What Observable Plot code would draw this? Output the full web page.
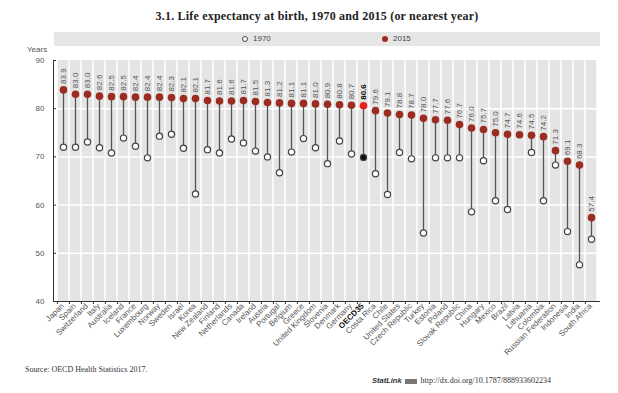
<!DOCTYPE html>
<html><head><meta charset="utf-8">
<script src="https://cdn.jsdelivr.net/npm/d3@7"></script>
<script src="https://cdn.jsdelivr.net/npm/@observablehq/plot@0.6"></script>
<style>
body{margin:0;background:#fff;}
#wrap{position:relative;width:618px;height:393px;overflow:hidden;font-family:"Liberation Sans Narrow","Arial Narrow","Liberation Sans",sans-serif;}
#chart{position:absolute;left:0;top:0;}
.title{position:absolute;top:9px;left:0;width:634px;text-align:center;font:bold 12px "Liberation Serif","DejaVu Serif",serif;color:#222;letter-spacing:0.2px}
.legend{position:absolute;left:54px;top:32px;width:546px;height:14px;background:#e6e6e6;font-size:8px;color:#444}
.legend .item{position:absolute;top:2px;line-height:10px;display:flex;align-items:center}
.legend .sw{display:inline-block;width:6px;height:6px;border-radius:50%;margin-right:5px;box-sizing:border-box}
.years{position:absolute;left:27px;top:45px;font-size:8px;color:#555}
.source{position:absolute;left:25px;top:365px;font:8px "Liberation Serif",serif;color:#333}
.statlink{position:absolute;left:372px;top:376px;font:8px "Liberation Serif",serif;color:#333;white-space:nowrap}
.statlink b{font:bold italic 7.5px "Liberation Sans",sans-serif;color:#333}
.statlink .ic{display:inline-block;width:12px;height:5px;background:#777;margin:0 4px 0 3px;vertical-align:middle}
</style></head>
<body>
<div id="wrap">
  <div id="chart"></div>
  <div class="title">3.1. Life expectancy at birth, 1970 and 2015 (or nearest year)</div>
  <div class="legend">
    <div class="item" style="left:188px"><span class="sw" style="border:1.2px solid #444;background:#fff"></span>1970</div>
    <div class="item" style="left:328px"><span class="sw" style="background:#9b2d20"></span>2015</div>
  </div>
  <div class="years">Years</div>
  <div class="source">Source: OECD Health Statistics 2017.</div>
  <div class="statlink"><b>StatLink</b><span class="ic"></span>http://dx.doi.org/10.1787/888933602234</div>
</div>
<script>
const countries = ["Japan","Spain","Switzerland","Italy","Australia","Iceland","France","Luxembourg","Norway","Sweden","Israel","Korea","New Zealand","Finland","Netherlands","Canada","Ireland","Austria","Portugal","Belgium","Greece","United Kingdom","Slovenia","Denmark","Germany","OECD35","Costa Rica","Chile","United States","Czech Republic","Turkey","Estonia","Poland","Slovak Republic","China","Hungary","Mexico","Brazil","Latvia","Lithuania","Colombia","Russian Federation","Indonesia","India","South Africa"];
const v2015 = [83.9,83.0,83.0,82.6,82.5,82.5,82.4,82.4,82.4,82.3,82.1,82.1,81.7,81.6,81.6,81.7,81.5,81.3,81.2,81.1,81.1,81.0,80.9,80.8,80.7,80.6,79.6,79.1,78.8,78.7,78.0,77.7,77.6,76.7,76.0,75.7,75.0,74.7,74.6,74.5,74.2,71.3,69.1,68.3,57.4];
const v1970 = [72.0,72.0,73.1,71.9,70.8,73.9,72.2,69.8,74.3,74.7,71.8,62.3,71.5,70.8,73.7,72.9,71.2,70.0,66.7,71.0,73.8,71.9,68.6,73.3,70.6,69.9,66.5,62.2,70.9,69.6,54.2,69.8,69.8,69.8,58.6,69.2,60.9,59.1,null,70.9,60.9,68.3,54.5,47.6,52.9];
const yTicks = [40,50,60,70,80,90];
const yDomain = [40,90];
const highlight = "OECD35";

const data = countries.map((c,i)=>({country:c, v2015:v2015[i], v1970:v1970[i]}));
const W = 618, H = 393, mL = 53, mR = 18, mT = 60, mB = 92;
const bw = (W - mL - mR) / countries.length;
const red = "#9b2d20", hiRed = "#e8201a";
const gray = "#555";

const plot = Plot.plot({
  width: W, height: H,
  marginLeft: mL, marginRight: mR, marginTop: mT, marginBottom: mB,
  style: {fontFamily: '"Liberation Sans Narrow","Arial Narrow","Liberation Sans",sans-serif', background: "transparent"},
  x: {type: "band", domain: countries, padding: 0, axis: null, label: null},
  y: {domain: yDomain, axis: null, label: null},
  marks: [
    Plot.barY(countries, {x: d => d, y1: yDomain[0], y2: yDomain[1], fill: "#e4e4e4", insetLeft: 0.75, insetRight: 0.75}),
    Plot.ruleY(yTicks.slice(1, -1), {stroke: "white", strokeWidth: 1.5}),
    Plot.ruleY([yDomain[0]], {stroke: "#333", strokeWidth: 1}),
    Plot.frame({anchor: "left", stroke: "#333"}),
    Plot.axisY(yTicks, {anchor: "left", tickSize: 3, dx: 3, text: null, stroke: "#333", label: null}),
    Plot.axisY(yTicks, {anchor: "left", tickSize: 0, tickPadding: 9, fontSize: 8, fill: gray, label: null}),
    Plot.axisX({anchor: "bottom", tickSize: 3, dx: -bw/2, text: null, stroke: "#333", label: null}),
    Plot.text(countries.filter(c => c !== highlight), {x: d => d, frameAnchor: "bottom", rotate: -45, textAnchor: "end", dy: 5, dx: 1, fontSize: 8, fill: gray, text: d => d}),
    Plot.text(countries.filter(c => c === highlight), {x: d => d, frameAnchor: "bottom", rotate: -45, textAnchor: "end", dy: 5, dx: 1, fontSize: 8, fill: "#111", fontWeight: "bold", text: d => d}),
    Plot.ruleX(data.filter(d => d.v1970 != null), {x: "country", y1: "v1970", y2: "v2015", stroke: "#555", strokeWidth: 1.3}),
    Plot.dot(data.filter(d => d.v1970 != null), {x: "country", y: "v1970", r: 3.1, fill: d => d.country === highlight ? "#111" : "white", stroke: "#444", strokeWidth: 1.2}),
    Plot.dot(data, {x: "country", y: "v2015", r: 3.8, fill: d => d.country === highlight ? hiRed : red, stroke: "none"}),
    Plot.text(data.filter(d => d.country !== highlight), {x: "country", y: "v2015", text: d => d.v2015.toFixed(1), rotate: -90, textAnchor: "start", dy: -6, fontSize: 8, fill: gray}),
    Plot.text(data.filter(d => d.country === highlight), {x: "country", y: "v2015", text: d => d.v2015.toFixed(1), rotate: -90, textAnchor: "start", dy: -6, fontSize: 8, fill: "#111", fontWeight: "bold"})
  ]
});
document.getElementById("chart").appendChild(plot);
</script>
</body></html>
